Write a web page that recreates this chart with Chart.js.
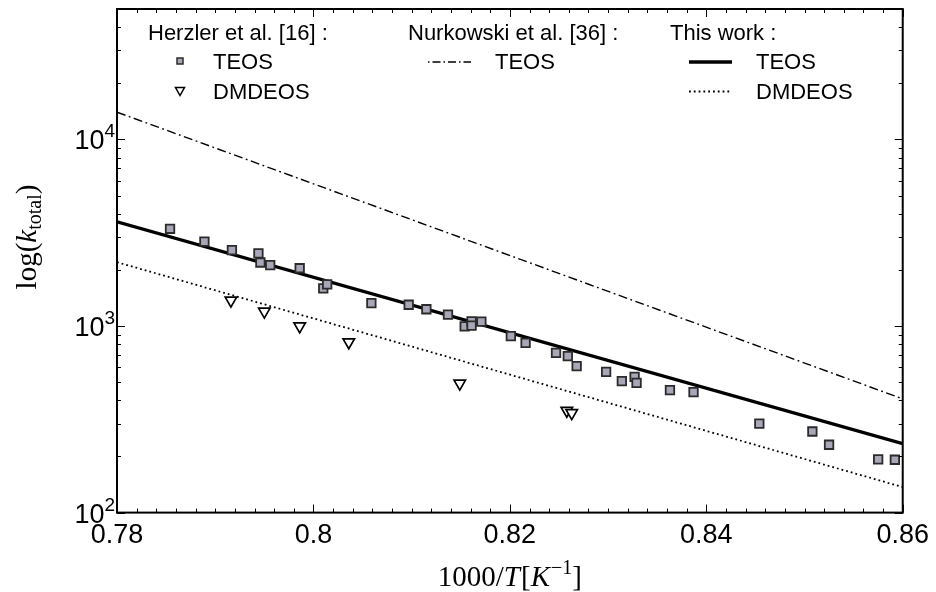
<!DOCTYPE html>
<html>
<head>
<meta charset="utf-8">
<script src="https://cdn.jsdelivr.net/npm/chart.js@4.4.0/dist/chart.umd.min.js"></script>
<style>
  html, body { margin: 0; padding: 0; background: #fff; }
</style>
</head>
<body>
<canvas id="myChart" width="936" height="592"></canvas>
<script>
// Herzler et al. [16] : TEOS (squares)
const teosX = [0.7854, 0.7889, 0.7917, 0.7944, 0.7946, 0.7956, 0.7986, 0.8010, 0.8014, 0.8059,
               0.8097, 0.8115, 0.8137, 0.8154, 0.8161, 0.8161, 0.8171, 0.8201, 0.8216, 0.8247,
               0.8259, 0.8268, 0.8298, 0.8314, 0.8327, 0.8329, 0.8363, 0.8387, 0.8454, 0.8508,
               0.8525, 0.8575, 0.8592];
const teosK = [3320, 2830, 2550, 2450, 2190, 2120, 2040, 1590, 1670, 1325,
               1300, 1230, 1150, 995, 1060, 1005, 1055, 882, 813, 718,
               689, 609, 568, 506, 534, 496, 453, 442, 300, 272,
               231, 193, 192];

// Herzler et al. [16] : DMDEOS (triangles)
const dmdeosX = [0.7916, 0.7950, 0.7986, 0.8036, 0.8149, 0.8258, 0.8263];
const dmdeosK = [1370, 1196, 997, 819, 492, 352, 342];

// Arrhenius lines, end points
const lineX = [0.78, 0.86];
const nurkowskiTeos = [14000, 407];
const thisWorkTeos = [3620, 234];
const thisWorkDmdeos = [2198, 137];

const xTicks = [0.78, 0.8, 0.82, 0.84, 0.86];
const yDecades = [100, 1000, 10000];

const SANS = '"Liberation Sans", Arial, sans-serif';
const SERIF = '"Liberation Serif", "Times New Roman", serif';
const SQ_FILL = '#a7a7b8';
const SQ_EDGE = '#2b2b2b';

function pts(xs, ys) {
    return xs.map((x, i) => ({ x: x, y: ys[i] }));
}

// text made of pieces with their own font / baseline shift
function drawRich(ctx, parts, x, y) {
    let total = 0;
    parts.forEach(p => { ctx.font = p.font; total += ctx.measureText(p.t).width + (p.sp || 0); });
    let cx = x - total / 2;
    ctx.textAlign = 'left';
    ctx.textBaseline = 'alphabetic';
    parts.forEach(p => {
        ctx.font = p.font;
        ctx.fillText(p.t, cx, y + (p.dy || 0));
        cx += ctx.measureText(p.t).width + (p.sp || 0);
    });
}

const framePlugin = {
    id: 'frame',
    afterDraw(chart) {
        const ctx = chart.ctx;
        const a = chart.chartArea;
        const xs = chart.scales.x;
        const ys = chart.scales.y;
        ctx.save();
        ctx.strokeStyle = '#000';
        ctx.fillStyle = '#000';

        // ticks, pointing inward on all sides
        ctx.lineWidth = 1;
        ctx.beginPath();
        for (let i = 0; i <= 40; i++) {
            const v = 0.78 + i * 0.002;
            const px = Math.round(xs.getPixelForValue(v)) + 0.5;
            const len = (i % 10 === 0) ? 8 : 4;
            ctx.moveTo(px, a.bottom); ctx.lineTo(px, a.bottom - len);
            ctx.moveTo(px, a.top); ctx.lineTo(px, a.top + len);
        }
        for (let e = 2; e <= 4; e++) {
            for (let m = 1; m <= 9; m++) {
                const v = m * Math.pow(10, e);
                if (v > ys.max) continue;
                const py = Math.round(ys.getPixelForValue(v)) + 0.5;
                const len = (m === 1) ? 8 : 4;
                ctx.moveTo(a.left, py); ctx.lineTo(a.left + len, py);
                ctx.moveTo(a.right, py); ctx.lineTo(a.right - len, py);
            }
        }
        ctx.stroke();

        // axes box
        ctx.lineWidth = 2;
        ctx.strokeRect(a.left, a.top, a.right - a.left, a.bottom - a.top);

        // y tick labels 10^n
        yDecades.forEach(v => {
            const py = ys.getPixelForValue(v);
            const exp = String(Math.round(Math.log10(v)));
            ctx.font = '19px ' + SANS;
            const ew = ctx.measureText(exp).width;
            ctx.textAlign = 'left';
            ctx.textBaseline = 'alphabetic';
            ctx.fillText(exp, a.left - 2 - ew, py - 2);
            ctx.font = '27px ' + SANS;
            ctx.textAlign = 'right';
            ctx.fillText('10', a.left - 2 - ew, py + 10);
        });

        // axis titles
        const big = '29px ' + SERIF;
        const it = 'italic 29px ' + SERIF;
        const small = '20px ' + SERIF;
        drawRich(ctx, [
            { t: '1000/', font: big },
            { t: 'T', font: it, sp: 1 },
            { t: '[', font: big },
            { t: 'K', font: it, sp: 1 },
            { t: '\u22121', font: small, dy: -12 },
            { t: ']', font: big }
        ], (a.left + a.right) / 2, 586);

        ctx.save();
        ctx.translate(36, 237);
        ctx.rotate(-Math.PI / 2);
        drawRich(ctx, [
            { t: 'log(', font: big },
            { t: 'k', font: it },
            { t: 'total', font: small, dy: 5 },
            { t: ')', font: big }
        ], 0, 0);
        ctx.restore();

        // legend
        ctx.font = '22px ' + SANS;
        ctx.textAlign = 'left';
        ctx.textBaseline = 'alphabetic';
        ctx.fillText('Herzler et al. [16] :', 148, 40);
        ctx.fillText('TEOS', 213, 69);
        ctx.fillText('DMDEOS', 213, 99);
        ctx.fillText('Nurkowski et al. [36] :', 408, 40);
        ctx.fillText('TEOS', 495, 69);
        ctx.fillText('This work :', 670, 40);
        ctx.fillText('TEOS', 756, 69);
        ctx.fillText('DMDEOS', 756, 99);

        // legend square
        ctx.lineWidth = 1.5;
        ctx.fillStyle = SQ_FILL;
        ctx.strokeStyle = SQ_EDGE;
        ctx.fillRect(177, 58, 6, 6);
        ctx.strokeRect(177, 58, 6, 6);
        // legend triangle
        ctx.fillStyle = '#fff';
        ctx.strokeStyle = '#000';
        ctx.beginPath();
        ctx.moveTo(175.5, 87.5); ctx.lineTo(184.5, 87.5); ctx.lineTo(180, 95.5); ctx.closePath();
        ctx.fill(); ctx.stroke();

        // legend line samples
        ctx.strokeStyle = '#000';
        ctx.lineWidth = 1.4;
        ctx.setLineDash([1.5, 3, 8, 3]);
        ctx.beginPath(); ctx.moveTo(428, 62); ctx.lineTo(471, 62); ctx.stroke();
        ctx.lineWidth = 1.8;
        ctx.setLineDash([1.8, 3]);
        ctx.beginPath(); ctx.moveTo(689, 91.5); ctx.lineTo(732, 91.5); ctx.stroke();
        ctx.setLineDash([]);
        ctx.lineWidth = 3.4;
        ctx.beginPath(); ctx.moveTo(689, 62); ctx.lineTo(732, 62); ctx.stroke();

        ctx.restore();
    }
};

const ctx = document.getElementById('myChart').getContext('2d');
const myChart = new Chart(ctx, {
    type: 'scatter',
    data: {
        datasets: [
            {
                label: 'Herzler TEOS',
                data: pts(teosX, teosK),
                pointStyle: 'rect',
                pointRadius: 6,
                backgroundColor: SQ_FILL,
                borderColor: SQ_EDGE,
                borderWidth: 1.8
            },
            {
                label: 'Herzler DMDEOS',
                data: pts(dmdeosX, dmdeosK),
                pointStyle: 'triangle',
                rotation: 180,
                pointRadius: 6.6,
                backgroundColor: '#fff',
                borderColor: '#000',
                borderWidth: 1.7
            },
            {
                label: 'This work TEOS',
                data: pts(lineX, thisWorkTeos),
                showLine: true,
                pointRadius: 0,
                borderColor: '#000',
                borderWidth: 3.4
            },
            {
                label: 'This work DMDEOS',
                data: pts(lineX, thisWorkDmdeos),
                showLine: true,
                pointRadius: 0,
                borderColor: '#000',
                borderWidth: 1.8,
                borderDash: [1.8, 3]
            },
            {
                label: 'Nurkowski TEOS',
                data: pts(lineX, nurkowskiTeos),
                showLine: true,
                pointRadius: 0,
                borderColor: '#000',
                borderWidth: 1.4,
                borderDash: [9, 3.5, 1.8, 3.5]
            }
        ]
    },
    options: {
        responsive: false,
        animation: false,
        events: [],
        layout: { padding: { left: 117, right: 30, top: 9, bottom: 33 } },
        plugins: { legend: { display: false }, tooltip: { enabled: false } },
        scales: {
            x: {
                type: 'linear',
                min: 0.78,
                max: 0.86,
                afterBuildTicks: (scale) => { scale.ticks = xTicks.map(v => ({ value: v })); },
                ticks: {
                    padding: 7,
                    color: '#000',
                    font: { family: SANS, size: 27 },
                    callback: (v) => String(Math.round(v * 100) / 100)
                },
                grid: { display: false, drawTicks: false },
                border: { display: false }
            },
            y: {
                type: 'logarithmic',
                min: 100,
                max: 50000,
                ticks: { display: false },
                grid: { display: false, drawTicks: false },
                border: { display: false }
            }
        }
    },
    plugins: [framePlugin]
});
</script>
</body>
</html>
